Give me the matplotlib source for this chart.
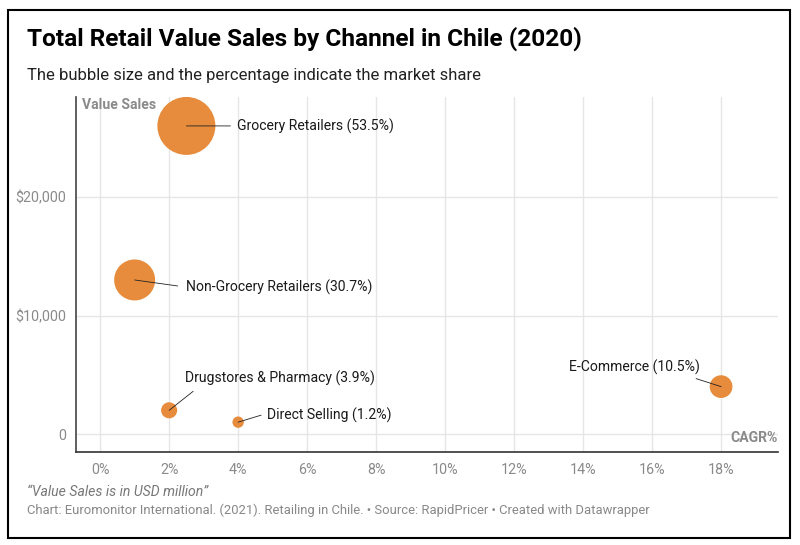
#!/usr/bin/env python3
"""
Total retail value sales by channel in Chile (2020) - bubble chart
"""

import matplotlib.pyplot as plt
from matplotlib.patches import Rectangle

# data
channels = ["Grocery Retailers", "Non-Grocery Retailers", "Drugstores & Pharmacy",
            "Direct Selling", "E-Commerce"]
cagr = [2.5, 1.0, 2.0, 4.0, 18.0]                 # %
value_sales = [26000, 13000, 2000, 1000, 4000]    # USD million
market_share = ["53.5%", "30.7%", "3.9%", "1.2%", "10.5%"]

x_ticks = [0, 2, 4, 6, 8, 10, 12, 14, 16, 18]
y_ticks = [0, 10000, 20000]
y_tick_labels = ["0", "$10,000", "$20,000"]

# label placement (pixels from the bubble centre): line end, text anchor, alignment
line_ends = [(44, 0), (43, -6), (24, 19), (23, 7), (-25, 8)]
text_pos = [(51, 0), (51, -7), (16, 32), (29, 7), (-21, 19)]
text_ha = ["left", "left", "left", "left", "right"]

ORANGE = "#E68C3C"
GREY = "#8a8a8a"
FONT = "Roboto"

plt.rcParams["font.family"] = [FONT, "DejaVu Sans"]


def main():
    fig = plt.figure(figsize=(8, 5.45), dpi=100)
    ax = fig.add_axes([0.095, 0.1706, 0.8775, 0.6514])

    # bubble area scales with value sales
    sizes = [v * 1744 / 26000 for v in value_sales]
    ax.scatter(cagr, value_sales, s=sizes, color=ORANGE, edgecolors="none",
               zorder=3)

    for i, name in enumerate(channels):
        ax.annotate("", xy=(cagr[i], value_sales[i]), xytext=line_ends[i],
                    textcoords="offset pixels",
                    arrowprops=dict(arrowstyle="-", lw=0.6, color="#222222",
                                    shrinkA=0, shrinkB=0), zorder=4)
        ax.annotate(f"{name} ({market_share[i]})", xy=(cagr[i], value_sales[i]),
                    xytext=text_pos[i], textcoords="offset pixels",
                    ha=text_ha[i], va="center", fontsize=10.1, color="#1a1a1a",
                    zorder=5)

    ax.set_xlim(-0.7, 19.65)
    ax.set_ylim(-1520, 28440)
    ax.set_xticks(x_ticks)
    ax.set_xticklabels([f"{t}%" for t in x_ticks])
    ax.set_yticks(y_ticks)
    ax.set_yticklabels(y_tick_labels)
    ax.tick_params(axis="both", length=0, colors=GREY, labelsize=10.3)
    ax.tick_params(axis="x", pad=8)
    ax.tick_params(axis="y", pad=7)
    ax.grid(True, color="#e6e6e6", lw=1, zorder=0)
    ax.set_axisbelow(True)

    for side in ["top", "right"]:
        ax.spines[side].set_visible(False)
    ax.spines["left"].set_color("#444444")
    ax.spines["bottom"].set_color("#333333")
    ax.spines["left"].set_linewidth(1.2)
    ax.spines["bottom"].set_linewidth(1.2)

    ax.text(0.009, 0.977, "Value Sales", transform=ax.transAxes, ha="left",
            va="center", fontsize=10.1, fontweight="bold", color=GREY)
    ax.text(0.999, 0.04, "CAGR%", transform=ax.transAxes, ha="right",
            va="center", fontsize=10.1, fontweight="bold", color=GREY)

    # titles and footer
    fig.text(27 / 800, 1 - 39 / 545, "Total Retail Value Sales by Channel in Chile (2020)",
             ha="left", va="center", fontsize=17.6, fontweight="bold", color="black")
    fig.text(27 / 800, 1 - 75 / 545,
             "The bubble size and the percentage indicate the market share",
             ha="left", va="center", fontsize=12, color="#222222")
    fig.text(27 / 800, 1 - 492 / 545, "\u201cValue Sales is in USD million\u201d",
             ha="left", va="center", fontsize=10.1, style="italic", color="#777777")
    fig.text(27 / 800, 1 - 510 / 545,
             "Chart: Euromonitor International. (2021). Retailing in Chile. \u2022 "
             "Source: RapidPricer \u2022 Created with Datawrapper",
             ha="left", va="center", fontsize=9.4, color="#888888")

    # frame around the whole graphic
    fig.patches.append(Rectangle((8 / 800, 1 - 538 / 545), 782 / 800, 528 / 545,
                                 transform=fig.transFigure, fill=False,
                                 edgecolor="black", lw=1.5))

    fig.savefig("out.png", dpi=100, facecolor="white")


if __name__ == "__main__":
    main()
